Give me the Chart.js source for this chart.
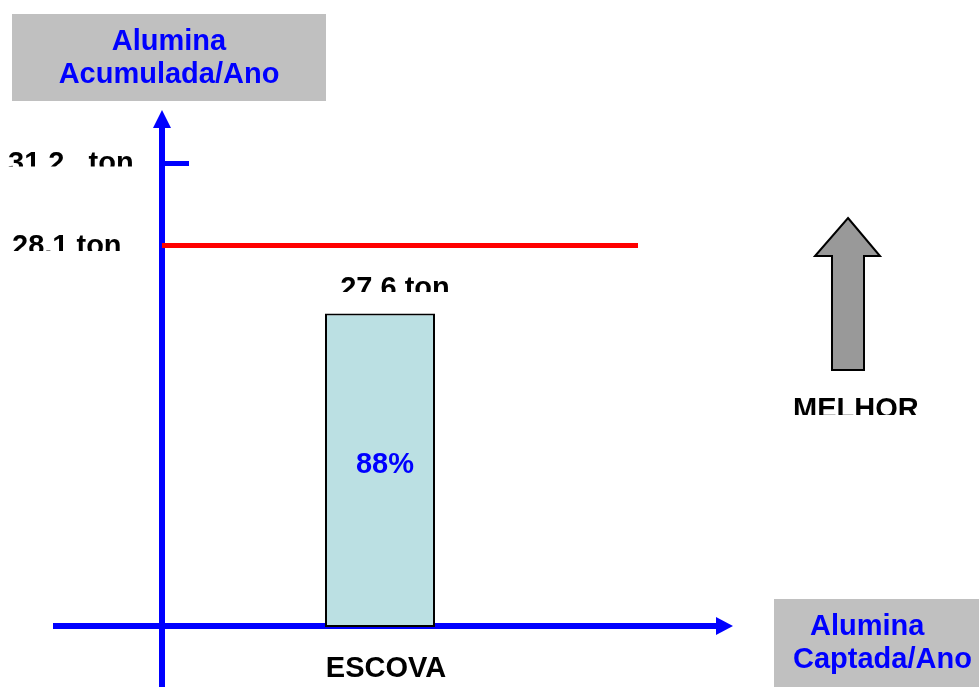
<!DOCTYPE html>
<html lang="pt">
<head>
<meta charset="utf-8">
<title>Alumina Acumulada/Ano</title>
<script src="https://cdn.jsdelivr.net/npm/chart.js@4"></script>
<style>
  html, body { margin: 0; padding: 0; background: #ffffff; overflow: hidden; }
  canvas { display: block; }
</style>
</head>
<body>
<canvas id="grafico" width="979" height="687"></canvas>
<script>
// ---- Dados ----
const categorias = ['ESCOVA'];
const aluminaAcumulada = [27.6];      // ton
const percentualCaptado = [88];       // %
const meta = [28.1];                  // ton (linha de referência)
const topoEixo = [31.2];              // ton (marca no topo do eixo)
const rotulosEixo = ['31,2   ton', '28,1 ton'];
const tituloEixoY = ['Alumina', 'Acumulada/Ano'];
const tituloEixoX = ['Alumina', 'Captada/Ano'];
const textoMelhor = 'MELHOR';

const AZUL = '#0000FF';
const FONTE = 'bold 29px "Liberation Sans", Arial, Helvetica, sans-serif';

function formatoTon(v) {
  return v.toFixed(1).replace('.', ',') + ' ton';
}

// Escala vertical em segmentos: cada valor de referência ocupa uma fração fixa da altura
class EscalaSegmentada extends Chart.LinearScale {
  static id = 'segmentada';
  static defaults = Chart.LinearScale.defaults;

  _fracao(valor) {
    const v = this.options.valoresRef, f = this.options.fracoesRef;
    if (valor <= v[0]) return f[0];
    for (let i = 1; i < v.length; i++) {
      if (valor <= v[i]) {
        return f[i - 1] + (valor - v[i - 1]) / (v[i] - v[i - 1]) * (f[i] - f[i - 1]);
      }
    }
    const n = v.length - 1;
    return f[n] + (valor - v[n]) / (v[n] - v[n - 1]) * (f[n] - f[n - 1]);
  }
  getPixelForValue(valor) {
    return this.getPixelForDecimal(this._fracao(valor));
  }
  getValueForPixel(pixel) {
    const d = this.getDecimalForPixel(pixel);
    const v = this.options.valoresRef, f = this.options.fracoesRef;
    for (let i = 1; i < v.length; i++) {
      if (d <= f[i]) {
        return v[i - 1] + (d - f[i - 1]) / (f[i] - f[i - 1]) * (v[i] - v[i - 1]);
      }
    }
    return v[v.length - 1];
  }
}
Chart.register(EscalaSegmentada);

function textoRecortado(ctx, texto, x, y, alinhamento, limiteInferior) {
  ctx.save();
  ctx.beginPath();
  ctx.rect(0, 0, ctx.canvas.width, limiteInferior);
  ctx.clip();
  ctx.textAlign = alinhamento;
  ctx.fillText(texto, x, y);
  ctx.restore();
}

const desenho = {
  id: 'desenho',
  beforeDatasetsDraw(chart) {
    const ctx = chart.ctx;
    const ys = chart.scales.y;
    const area = chart.chartArea;
    const x0 = area.left;
    const yBase = ys.getPixelForValue(0) - 1;

    ctx.save();
    ctx.fillStyle = AZUL;
    ctx.strokeStyle = AZUL;
    ctx.lineCap = 'butt';

    // eixo vertical com seta
    ctx.lineWidth = 6;
    ctx.beginPath();
    ctx.moveTo(x0, chart.height);
    ctx.lineTo(x0, 126);
    ctx.stroke();
    ctx.beginPath();
    ctx.moveTo(x0 - 9, 128);
    ctx.lineTo(x0 + 9, 128);
    ctx.lineTo(x0, 110);
    ctx.closePath();
    ctx.fill();

    // eixo horizontal com seta
    ctx.beginPath();
    ctx.moveTo(53, yBase);
    ctx.lineTo(718, yBase);
    ctx.stroke();
    ctx.beginPath();
    ctx.moveTo(716, yBase - 9);
    ctx.lineTo(716, yBase + 9);
    ctx.lineTo(733, yBase);
    ctx.closePath();
    ctx.fill();

    // marca do topo da escala
    const yTopo = ys.getPixelForValue(topoEixo[0]) + 0.5;
    ctx.lineWidth = 5;
    ctx.beginPath();
    ctx.moveTo(x0, yTopo);
    ctx.lineTo(189, yTopo);
    ctx.stroke();

    // linha de meta
    const yMeta = ys.getPixelForValue(meta[0]);
    ctx.strokeStyle = '#FF0000';
    ctx.lineWidth = 5;
    ctx.beginPath();
    ctx.moveTo(x0, yMeta);
    ctx.lineTo(638, yMeta);
    ctx.stroke();
    ctx.restore();
  },
  afterDatasetsDraw(chart) {
    const ctx = chart.ctx;
    const ys = chart.scales.y;
    const xs = chart.scales.x;
    ctx.save();
    ctx.font = FONTE;
    ctx.textBaseline = 'alphabetic';

    // caixa do título vertical
    ctx.fillStyle = '#C0C0C0';
    ctx.fillRect(12, 14, 314, 87);
    ctx.fillStyle = AZUL;
    ctx.textAlign = 'center';
    ctx.fillText(tituloEixoY[0], 169, 50);
    ctx.fillText(tituloEixoY[1], 169, 83);

    // caixa do título horizontal
    ctx.fillStyle = '#C0C0C0';
    ctx.fillRect(774, 599, 205, 88);
    ctx.fillStyle = AZUL;
    ctx.textAlign = 'left';
    ctx.fillText(tituloEixoX[0], 810, 635);
    ctx.fillText(tituloEixoX[1], 793, 668);

    // rótulos da escala
    ctx.fillStyle = '#000000';
    const yTopo = ys.getPixelForValue(topoEixo[0]);
    const yMeta = ys.getPixelForValue(meta[0]);
    textoRecortado(ctx, rotulosEixo[0], 8, yTopo + 8.5, 'left', yTopo + 3.5);
    textoRecortado(ctx, rotulosEixo[1], 12, yMeta + 9.5, 'left', yMeta + 5.5);

    // rótulos da barra
    categorias.forEach((cat, i) => {
      const xc = xs.getPixelForValue(i);
      const yTop = ys.getPixelForValue(aluminaAcumulada[i]);
      const yZero = ys.getPixelForValue(0);
      ctx.fillStyle = '#000000';
      textoRecortado(ctx, formatoTon(aluminaAcumulada[i]), xc + 15, yTop - 16.5, 'center', yTop - 21.5);
      ctx.textAlign = 'center';
      ctx.fillText(cat, xc + 6, yZero + 50);
      ctx.fillStyle = AZUL;
      ctx.fillText(percentualCaptado[i] + '%', xc + 5, 473);
    });

    // seta "melhor"
    ctx.beginPath();
    ctx.moveTo(848, 218);
    ctx.lineTo(880, 256);
    ctx.lineTo(864, 256);
    ctx.lineTo(864, 370);
    ctx.lineTo(832, 370);
    ctx.lineTo(832, 256);
    ctx.lineTo(815, 256);
    ctx.closePath();
    ctx.fillStyle = '#999999';
    ctx.fill();
    ctx.lineWidth = 2;
    ctx.strokeStyle = '#000000';
    ctx.lineJoin = 'miter';
    ctx.stroke();

    ctx.fillStyle = '#000000';
    textoRecortado(ctx, textoMelhor, 793, 418, 'left', 415);
    ctx.restore();
  }
};

new Chart(document.getElementById('grafico'), {
  type: 'bar',
  data: {
    labels: categorias,
    datasets: [{
      label: 'Alumina Acumulada/Ano',
      data: aluminaAcumulada,
      backgroundColor: 'rgb(187,224,227)',
      borderColor: '#000000',
      borderWidth: 2,
      borderSkipped: false,
      barPercentage: 0.2523,
      categoryPercentage: 1
    }]
  },
  options: {
    responsive: false,
    devicePixelRatio: 1,
    animation: false,
    events: [],
    layout: { padding: { left: 162, right: 381, top: 163, bottom: 60 } },
    plugins: { legend: { display: false }, tooltip: { enabled: false } },
    scales: {
      x: { type: 'category', display: false, offset: true },
      y: {
        type: 'segmentada',
        display: false,
        min: 0,
        max: topoEixo[0],
        valoresRef: [0, aluminaAcumulada[0], meta[0], topoEixo[0]],
        fracoesRef: [0, 0.6756, 0.8222, 1]
      }
    }
  },
  plugins: [desenho]
});
</script>
</body>
</html>
